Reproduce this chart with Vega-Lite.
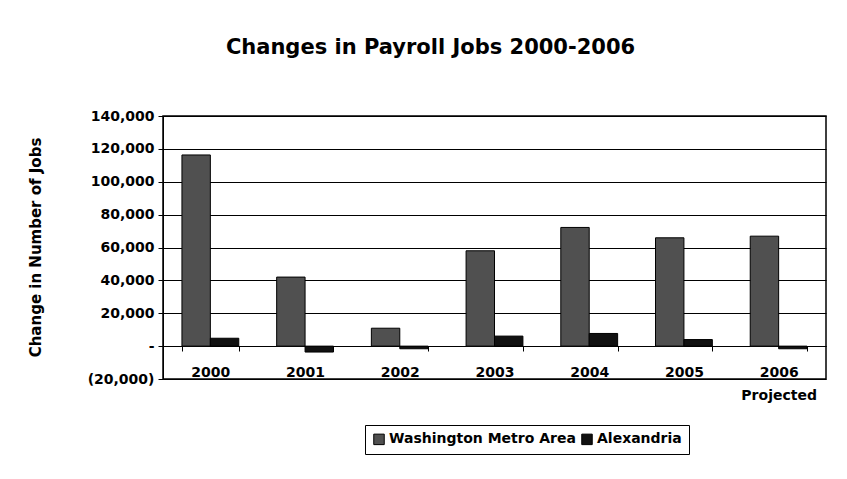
{
  "$schema": "https://vega.github.io/schema/vega-lite/v6.json",
  "autosize": "none",
  "width": 663,
  "height": 263,
  "padding": {"left": 163, "top": 116, "right": 21, "bottom": 100},
  "background": "white",
  "config": {
    "font": "DejaVu Sans",
    "view": {"stroke": "black", "strokeWidth": 1.5}
  },
  "title": {
    "text": "Changes in Payroll Jobs 2000-2006",
    "fontSize": 21,
    "fontWeight": "bold",
    "font": "DejaVu Sans",
    "anchor": "middle",
    "dx": -64,
    "offset": 51,
    "color": "black"
  },
  "data": {
    "values": [
      {"year": "2000", "series": "Washington Metro Area", "jobs": 116300},
      {"year": "2000", "series": "Alexandria", "jobs": 4800},
      {"year": "2001", "series": "Washington Metro Area", "jobs": 42000},
      {"year": "2001", "series": "Alexandria", "jobs": -3600},
      {"year": "2002", "series": "Washington Metro Area", "jobs": 10900},
      {"year": "2002", "series": "Alexandria", "jobs": -1600},
      {"year": "2003", "series": "Washington Metro Area", "jobs": 58000},
      {"year": "2003", "series": "Alexandria", "jobs": 6100},
      {"year": "2004", "series": "Washington Metro Area", "jobs": 72200},
      {"year": "2004", "series": "Alexandria", "jobs": 7700},
      {"year": "2005", "series": "Washington Metro Area", "jobs": 65900},
      {"year": "2005", "series": "Alexandria", "jobs": 4000},
      {"year": "2006", "series": "Washington Metro Area", "jobs": 66900},
      {"year": "2006", "series": "Alexandria", "jobs": -1600}
    ]
  },
  "mark": {"type": "bar", "stroke": "black", "strokeWidth": 1},
  "encoding": {
    "x": {
      "field": "year",
      "type": "nominal",
      "scale": {"paddingInner": 0.4, "paddingOuter": 0.2},
      "axis": {
        "title": null,
        "labelAngle": 0,
        "offset": -33,
        "tickBand": "extent",
        "tickSize": 5,
        "tickColor": "black",
        "domainColor": "black",
        "labelFont": "DejaVu Sans",
        "labelFontSize": 14,
        "labelFontWeight": "bold",
        "labelColor": "black",
        "labelPadding": 14,
        "labelBaseline": "top",
        "labelLineHeight": 23,
        "labelExpr": "datum.value == '2006' ? ['2006', 'Projected'] : datum.value"
      }
    },
    "xOffset": {
      "field": "series",
      "type": "nominal",
      "sort": ["Washington Metro Area", "Alexandria"],
      "scale": {"paddingInner": 0, "paddingOuter": 0}
    },
    "y": {
      "field": "jobs",
      "type": "quantitative",
      "scale": {"domain": [-20000, 140000], "nice": false, "zero": false},
      "axis": {
        "values": [-20000, 0, 20000, 40000, 60000, 80000, 100000, 120000, 140000],
        "title": "Change in Number of Jobs",
        "titleFont": "DejaVu Sans",
        "titleFontSize": 15,
        "titleFontWeight": "bold",
        "titleColor": "black",
        "titleX": -128,
        "titleY": 131,
        "titleAlign": "center",
        "titleBaseline": "middle",
        "titleAngle": -90,
        "labelFont": "DejaVu Sans",
        "labelFontSize": 14,
        "labelFontWeight": "bold",
        "labelColor": "black",
        "labelPadding": 4,
        "tickSize": 5,
        "tickColor": "black",
        "domainColor": "black",
        "grid": true,
        "gridColor": "black",
        "gridWidth": 1,
        "gridOpacity": 1,
        "labelExpr": "datum.value == 0 ? '-\u00a0\u00a0\u00a0' : (datum.value < 0 ? '(' + format(-datum.value, ',') + ')' : format(datum.value, ',') + '\u00a0')"
      }
    },
    "color": {
      "field": "series",
      "type": "nominal",
      "sort": ["Washington Metro Area", "Alexandria"],
      "scale": {"domain": ["Washington Metro Area", "Alexandria"], "range": ["#505050", "#111111"]},
      "legend": {
        "title": null,
        "orient": "none",
        "legendX": 202,
        "legendY": 309,
        "direction": "horizontal",
        "strokeColor": "black",
        "padding": 7,
        "symbolType": "square",
        "symbolSize": 110,
        "symbolStrokeColor": "black",
        "symbolStrokeWidth": 1,
        "labelFont": "DejaVu Sans",
        "labelFontSize": 14,
        "labelFontWeight": "bold",
        "labelColor": "black",
        "labelLimit": 300,
        "labelOffset": 3,
        "columnPadding": 3,
        "fillColor": "white"
      }
    }
  }
}
